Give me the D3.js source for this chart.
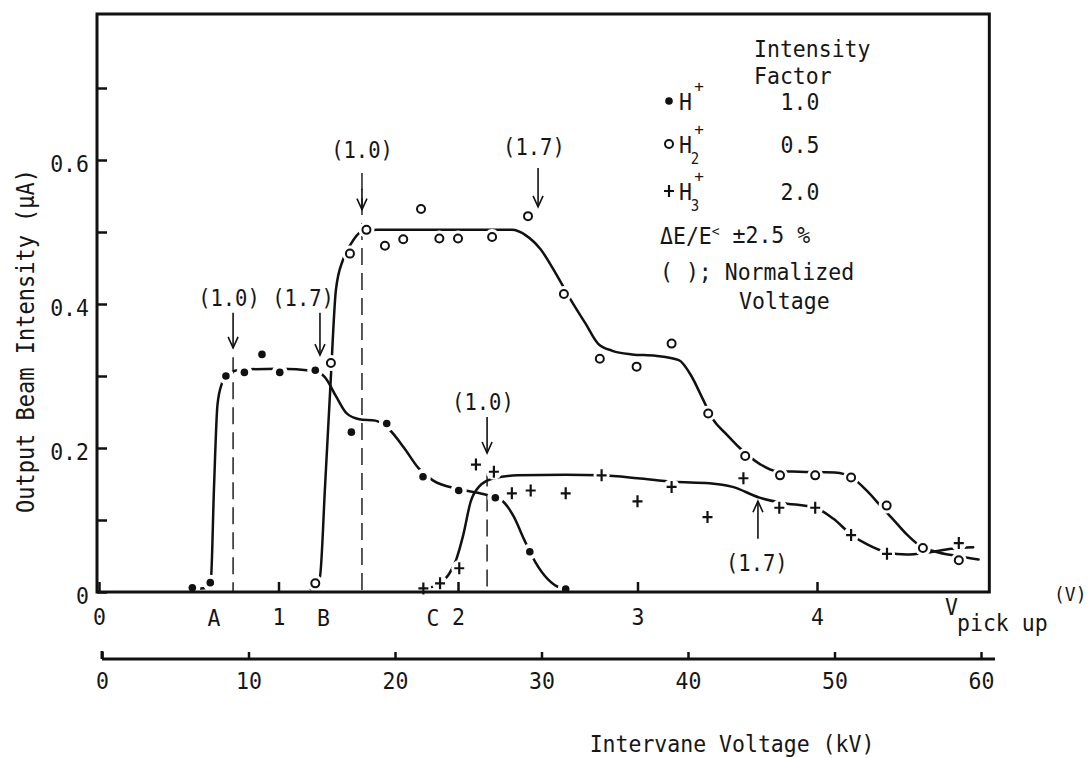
<!DOCTYPE html>
<html>
<head>
<meta charset="utf-8">
<script src="https://cdn.jsdelivr.net/npm/d3@7"></script>
<style>
  body { margin: 0; background: #fff; }
  text { font-family: "DejaVu Sans Mono", monospace; fill: #161616; }
</style>
</head>
<body>
<svg id="chart" width="1089" height="758"></svg>
<script>
// ---- data (pickup voltage V, intensity uA) ----
const pickupTicks = [0, 1, 2, 3, 4];
const onsetLabels = ['A', 'B', 'C'];
const onsetVolts = [0.64, 1.25, 1.86];
const intensityTicks = [0, 0.1, 0.2, 0.3, 0.4, 0.5, 0.6, 0.7];
const intensityLabels = ['0', '', '0.2', '', '0.4', '', '0.6', ''];
const kvTicks = [0, 10, 20, 30, 40, 50, 60];

// H+ measured points and drawn curve
const hPoints = [[0.52, 0.006], [0.62, 0.013], [0.707, 0.30], [0.81, 0.305], [0.908, 0.33],
  [1.007, 0.305], [1.205, 0.308], [1.406, 0.222], [1.603, 0.234], [1.805, 0.16],
  [2.004, 0.141], [2.208, 0.131], [2.40, 0.056], [2.60, 0.004]];
const hCurve = [[0.52, 0.004], [0.60, 0.006], [0.624, 0.02], [0.64, 0.14], [0.66, 0.26],
  [0.685, 0.29], [0.71, 0.302], [0.80, 0.309], [1.0, 0.31], [1.20, 0.307], [1.26, 0.298],
  [1.32, 0.272], [1.38, 0.248], [1.45, 0.24], [1.54, 0.238], [1.62, 0.225], [1.70, 0.20],
  [1.78, 0.172], [1.86, 0.155], [2.0, 0.143], [2.14, 0.136], [2.24, 0.128], [2.31, 0.105],
  [2.37, 0.072], [2.43, 0.042], [2.50, 0.018], [2.57, 0.006], [2.62, 0.004]];

// H2+ measured points and drawn curve
const h2Points = [[1.205, 0.012], [1.292, 0.318], [1.398, 0.47], [1.49, 0.503], [1.593, 0.481],
  [1.695, 0.49], [1.794, 0.532], [1.896, 0.491], [2.0, 0.491], [2.19, 0.493], [2.39, 0.522],
  [2.59, 0.414], [2.79, 0.324], [2.995, 0.313], [3.19, 0.345], [3.394, 0.248], [3.60, 0.189],
  [3.794, 0.162], [3.99, 0.162], [4.19, 0.159], [4.388, 0.12], [4.59, 0.061], [4.79, 0.044]];
const h2Curve = [[1.18, 0.004], [1.23, 0.02], [1.26, 0.15], [1.29, 0.29], [1.32, 0.42],
  [1.36, 0.462], [1.40, 0.482], [1.46, 0.5], [1.55, 0.503], [2.0, 0.503], [2.30, 0.503],
  [2.38, 0.495], [2.46, 0.476], [2.55, 0.44], [2.63, 0.405], [2.71, 0.373], [2.78, 0.345],
  [2.86, 0.335], [2.97, 0.33], [3.1, 0.328], [3.23, 0.322], [3.30, 0.30], [3.36, 0.27],
  [3.42, 0.24], [3.50, 0.218], [3.57, 0.2], [3.68, 0.178], [3.77, 0.168], [3.90, 0.167],
  [4.10, 0.166], [4.20, 0.158], [4.28, 0.14], [4.36, 0.118], [4.42, 0.102], [4.50, 0.08],
  [4.58, 0.063], [4.66, 0.056], [4.78, 0.05], [4.90, 0.045]];

// H3+ measured points and drawn curve
const h3Points = [[1.807, 0.005], [1.90, 0.012], [2.007, 0.033], [2.10, 0.177], [2.20, 0.167],
  [2.30, 0.137], [2.405, 0.141], [2.60, 0.137], [2.80, 0.162], [3.0, 0.126], [3.19, 0.146],
  [3.39, 0.104], [3.59, 0.158], [3.79, 0.117], [3.99, 0.117], [4.19, 0.079], [4.39, 0.053],
  [4.79, 0.068]];
const h3Curve = [[1.80, 0.003], [1.88, 0.01], [1.95, 0.025], [1.99, 0.045], [2.03, 0.08],
  [2.07, 0.125], [2.12, 0.147], [2.2, 0.158], [2.33, 0.162], [2.6, 0.163], [2.8, 0.162],
  [3.0, 0.158], [3.2, 0.153], [3.4, 0.151], [3.53, 0.146], [3.68, 0.131], [3.8, 0.124],
  [3.99, 0.117], [4.09, 0.102], [4.19, 0.08], [4.28, 0.066], [4.39, 0.055], [4.5, 0.052],
  [4.62, 0.055], [4.75, 0.06], [4.87, 0.062]];

// normalized-voltage arrows: [volt, tail, tip, label, label volt, label intensity]
const normArrows = [
  [0.747, 0.388, 0.339, '(1.0)', 0.724, 0.408],
  [1.231, 0.388, 0.329, '(1.7)', 1.137, 0.408],
  [1.465, 0.560, 0.531, '(1.0)', 1.465, 0.614],
  [2.446, 0.589, 0.535, '(1.7)', 2.423, 0.618],
  [2.162, 0.243, 0.193, '(1.0)', 2.139, 0.264],
  [3.671, 0.074, 0.126, '(1.7)', 3.665, 0.040]
];
// dashed guide lines: [volt, top intensity]
const guideLines = [[0.747, 0.326], [1.465, 0.582], [2.162, 0.17]];

const legendIons = ['', '2', '3'];
const legendFactors = ['1.0', '0.5', '2.0'];

// ---- layout ----
const svg = d3.select('#chart');
const x = d3.scaleLinear().domain([0, 5]).range([99, 996.5]);
const y = d3.scaleLinear().domain([0, 0.8]).range([592, 16]);
const kv = d3.scaleLinear().domain([0, 60]).range([102, 981]);
const ink = '#111';
const xRight = 4.96;
const stretch = 1.1; // the typewriter lettering is taller than DejaVu

function label(g, px, py, s, size, anchor, sy) {
  return g.append('text')
    .attr('transform', `translate(${px},${py}) scale(1,${sy || stretch})`)
    .attr('dy', '0.36em')
    .attr('font-size', size)
    .attr('text-anchor', anchor || 'middle')
    .text(s);
}

function drawMarker(g, shape, px, py) {
  if (shape === 'dot') {
    g.append('circle').attr('cx', px).attr('cy', py).attr('r', 3.8).attr('fill', ink);
  } else if (shape === 'ring') {
    g.append('circle').attr('cx', px).attr('cy', py).attr('r', 4)
      .attr('fill', '#fff').attr('stroke', ink).attr('stroke-width', 2);
  } else {
    g.append('path').attr('d', `M${px - 5},${py}H${px + 5}M${px},${py - 6}V${py + 6}`)
      .attr('stroke', ink).attr('stroke-width', 2.2).attr('fill', 'none');
  }
}

// dashed guides
svg.append('g').selectAll('line').data(guideLines).join('line')
  .attr('x1', d => x(d[0])).attr('x2', d => x(d[0]))
  .attr('y1', d => y(d[1])).attr('y2', y(0))
  .attr('stroke', ink).attr('stroke-width', 1.4)
  .attr('stroke-dasharray', '17,8');

// curves
const line = d3.line().x(d => x(d[0])).y(d => y(d[1])).curve(d3.curveMonotoneX);
svg.append('g').selectAll('path').data([hCurve, h2Curve, h3Curve]).join('path')
  .attr('d', line)
  .attr('fill', 'none').attr('stroke', ink).attr('stroke-width', 2.5)
  .attr('stroke-linecap', 'round');

// white gaps where the curves pass the markers
const series = [['dot', hPoints], ['ring', h2Points], ['plus', h3Points]];
const halos = svg.append('g');
series.forEach(([shape, pts]) => {
  halos.selectAll(null).data(pts).join('circle')
    .attr('cx', d => x(d[0])).attr('cy', d => y(d[1])).attr('r', 8).attr('fill', '#fff');
});

// frame
svg.append('rect')
  .attr('x', 97).attr('y', y(0.8) - 2)
  .attr('width', x(xRight) - 97).attr('height', y(0) - y(0.8) + 2)
  .attr('fill', 'none').attr('stroke', ink).attr('stroke-width', 3);

// axes
const yAxis = svg.append('g').attr('transform', 'translate(97,0)')
  .call(d3.axisLeft(y).tickValues(intensityTicks).tickSize(-10).tickPadding(8)
    .tickFormat((d, i) => intensityLabels[i]));
const xAxis = svg.append('g').attr('transform', `translate(0,${y(0)})`)
  .call(d3.axisBottom(x).tickValues(pickupTicks).tickSize(-10).tickPadding(16)
    .tickFormat(d3.format('d')));
const kvAxis = svg.append('g').attr('transform', 'translate(0,659)')
  .call(d3.axisBottom(kv).tickValues(kvTicks).tickSize(-7).tickPadding(13));
[yAxis, xAxis, kvAxis].forEach(a => {
  a.select('.domain').remove();
  a.selectAll('line').attr('stroke', ink).attr('stroke-width', 2.5);
  a.selectAll('text')
    .attr('font-size', 21.5).attr('font-family', '"DejaVu Sans Mono", monospace').attr('fill', ink)
    .each(function () {
      const t = d3.select(this);
      t.attr('y', (+t.attr('y') || 0) / stretch).attr('transform', `scale(1,${stretch})`);
    });
});
yAxis.selectAll('text').attr('dy', '0.5em');
kvAxis.append('line')
  .attr('x1', kv(0)).attr('x2', kv(60) + 14)
  .attr('stroke', ink).attr('stroke-width', 3);
kvAxis.append('line')
  .attr('x1', kv(0)).attr('x2', kv(0)).attr('y1', 0).attr('y2', -8)
  .attr('stroke', ink).attr('stroke-width', 3);

// onset letters on the pickup axis
const texts = svg.append('g');
onsetLabels.forEach((s, i) => label(texts, x(onsetVolts[i]), 617, s, 21.5));

// markers
const marks = svg.append('g');
series.forEach(([shape, pts]) => pts.forEach(d => drawMarker(marks, shape, x(d[0]), y(d[1]))));

// normalized-voltage arrows
const arrows = svg.append('g').attr('stroke', ink).attr('fill', 'none').attr('stroke-width', 1.6);
normArrows.forEach(([v, tail, tip, s, lv, li]) => {
  const px = x(v), t0 = y(tail), t1 = y(tip);
  const dir = t1 > t0 ? 1 : -1;
  arrows.append('path').attr('d', `M${px},${t0}V${t1}`);
  arrows.append('path').attr('d', `M${px - 5},${t1 - dir * 11}L${px},${t1}L${px + 5},${t1 - dir * 11}`);
  label(texts, x(lv), y(li), s, 20.5);
});

// axis titles
label(texts, 732, 743, 'Intervane Voltage (kV)', 21.5);
label(texts, 945, 606, 'V', 21.5, 'start');
label(texts, 957, 622, 'pick up', 21.5, 'start');
label(texts, 1054, 594, '(V)', 18, 'start');
texts.append('text')
  .attr('transform', `translate(25,341) rotate(-90) scale(1,${stretch})`)
  .attr('dy', '0.36em').attr('font-size', 22).attr('text-anchor', 'middle')
  .text('Output Beam Intensity (\u03BCA)');

// legend
const legend = svg.append('g');
const legendRows = [101, 144, 191];
label(legend, 754, 48, 'Intensity', 21.5, 'start');
label(legend, 754, 75, 'Factor', 21.5, 'start');
series.forEach(([shape], i) => {
  const ry = legendRows[i];
  drawMarker(legend, shape, 669, ry);
  label(legend, 679, ry, 'H', 21.5, 'start');
  label(legend, 699, ry - 15, '+', 16, 'middle', 1);
  if (legendIons[i]) label(legend, 695, ry + 14, legendIons[i], 14, 'middle', 1.15);
  label(legend, 800, ry, legendFactors[i], 21.5);
});
const de = label(legend, 660, 235, '\u0394E/E', 21.5, 'start');
de.append('tspan').attr('font-size', 13).attr('dy', '-0.5em').text('<');
de.append('tspan').attr('dy', '0.3em').text(' \u00B12.5 %');
label(legend, 660, 271, '( ); Normalized', 21.5, 'start');
label(legend, 739, 300, 'Voltage', 21.5, 'start');
</script>
</body>
</html>
